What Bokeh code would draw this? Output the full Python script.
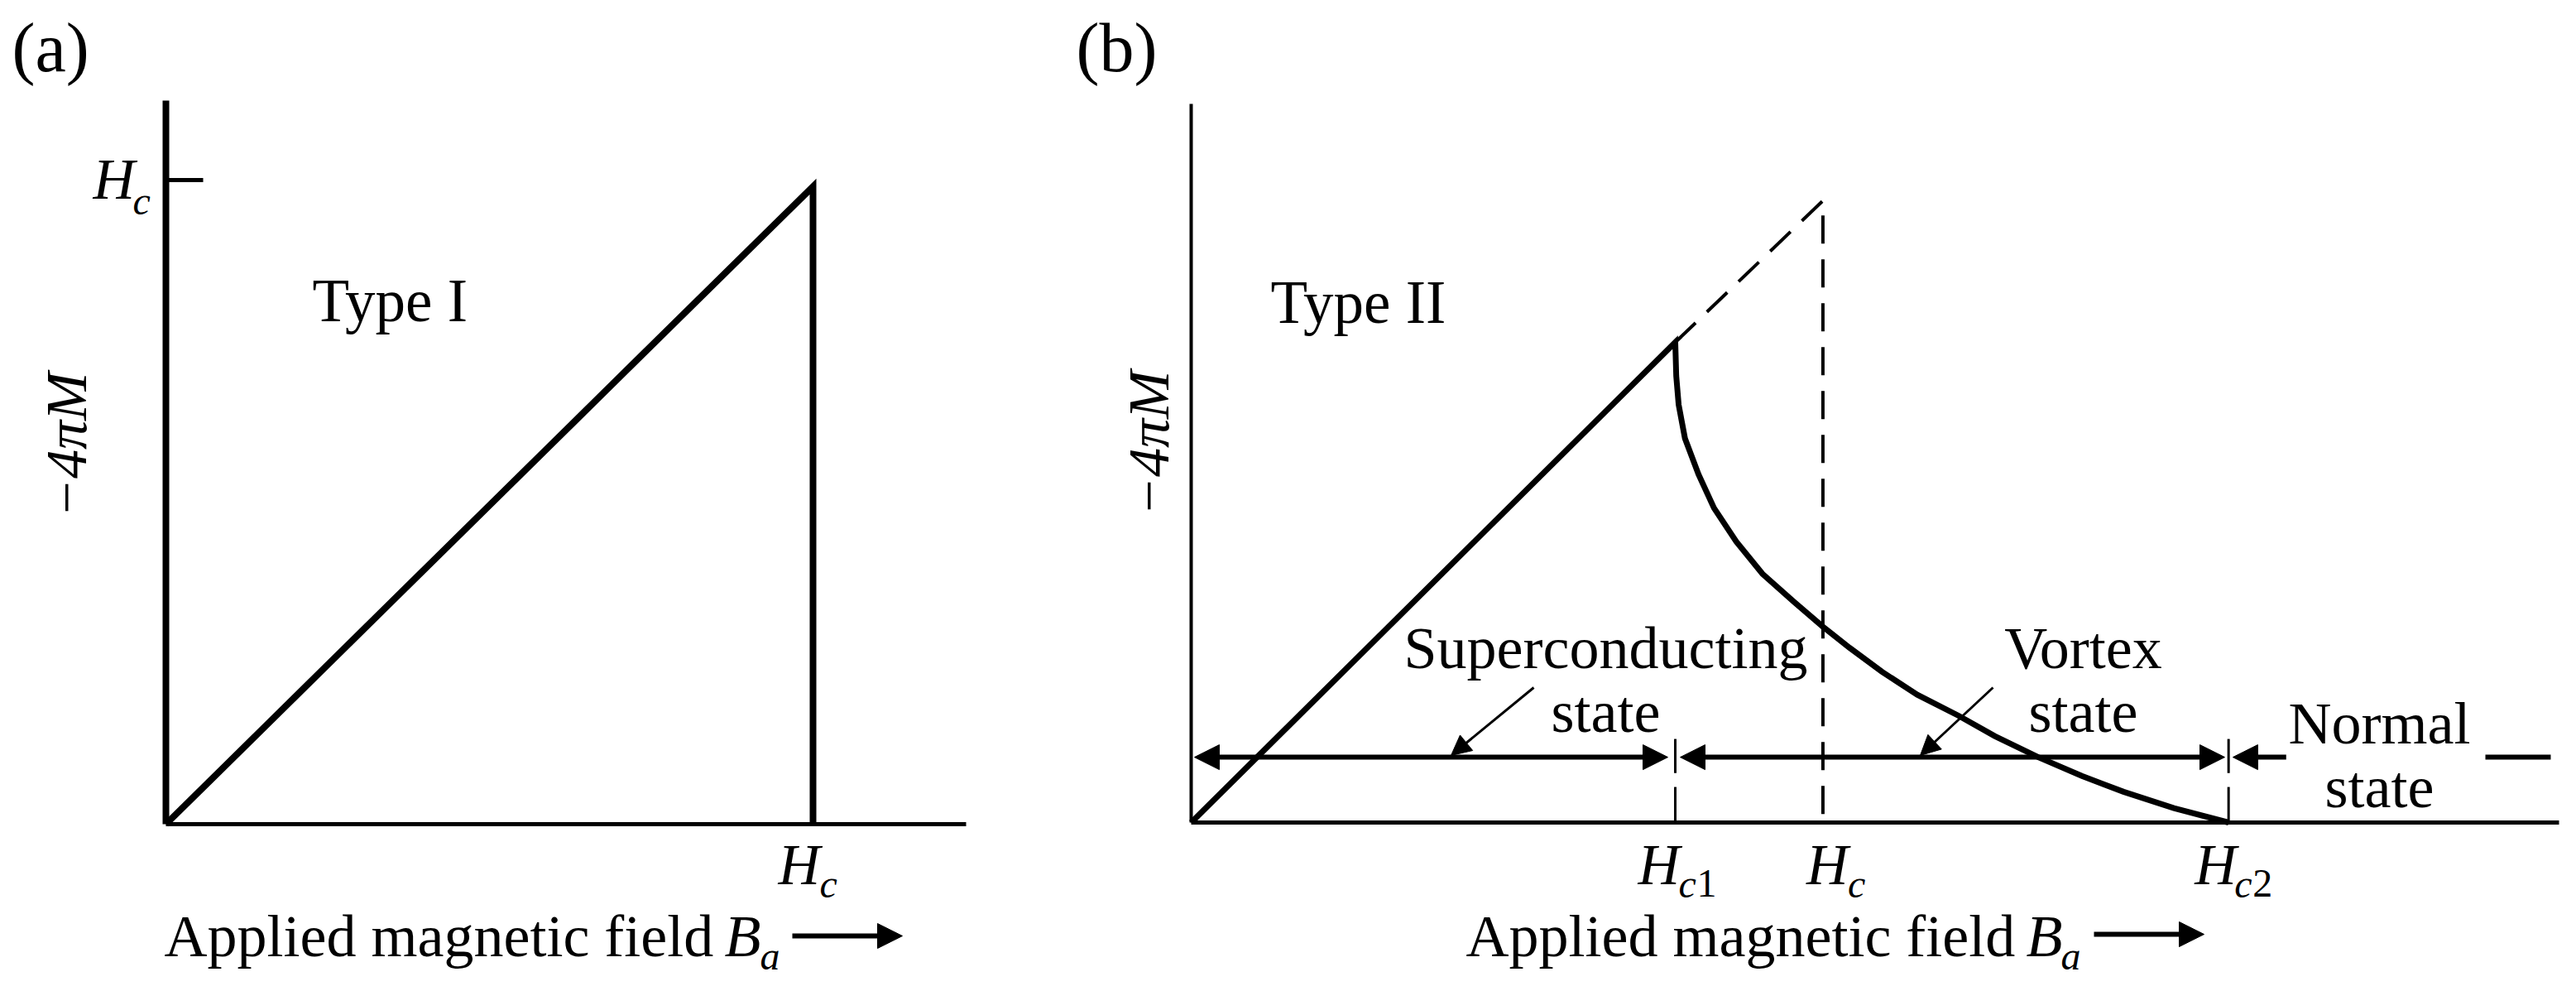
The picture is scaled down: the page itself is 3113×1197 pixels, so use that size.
import math
from bokeh.plotting import figure
from bokeh.models import Label, Arrow, NormalHead, FixedTicker, Range1d
from bokeh.layouts import row
from bokeh.embed import file_html
from bokeh.resources import INLINE

FONT = "Liberation Serif"

# ---------------- data (field in units of Hc / Hc1) ----------------
# (a) Type I superconductor
a_field = [0.0, 1.0, 1.0]
a_magnetization = [0.0, 0.99, 0.0]
a_hc = 1.0

# (b) Type II superconductor
b_meissner_field = [0.0, 1.0]
b_meissner_magnetization = [0.0, 1.0]
b_ideal_field = [1.0, 1.305, 1.305]
b_ideal_magnetization = [1.0, 1.295, 0.0]
b_vortex_field = [1.0, 1.002, 1.007, 1.02, 1.048, 1.08, 1.126, 1.18, 1.246, 1.306,
                  1.36, 1.427, 1.5, 1.586, 1.66, 1.75, 1.84, 1.926, 2.03, 2.143]
b_vortex_magnetization = [1.0, 0.93, 0.87, 0.80, 0.725, 0.655, 0.585, 0.518, 0.459, 0.407,
                          0.364, 0.314, 0.266, 0.222, 0.18, 0.136, 0.097, 0.064, 0.03, 0.0]
b_hc1, b_hc, b_hc2 = 1.0, 1.305, 2.143
b_tick_values = [b_hc1, b_hc, b_hc2]
b_tick_subs = [[("c", "italic"), ("1", "normal")], [("c", "italic")], [("c", "italic"), ("2", "normal")]]
b_state_names = [["Superconducting", "state"], ["Vortex", "state"], ["Normal", "state"]]

# ---------------- layout (pixels) ----------------
A_W, A_H = 1290, 1189
A_OX, A_OY = 200, 995          # origin of panel (a) in canvas px
A_SX, A_SY = 782.0, 778.0      # px per data unit
A_XEND, A_YEND = 967, 874      # axis lengths in px
B_W, B_H = 1815, 1189
B_OX, B_OY = 149, 993
B_SX, B_SY = 585.0, 580.0
B_XEND, B_YEND = 1653, 868
MID = 0.3375                   # middle of the font box above the baseline, in em


def make_fig(w, h, ox, oy, sx, sy, xend, yend, xw, yw):
    p = figure(width=w, height=h,
               x_range=Range1d(-ox / sx, (w - ox) / sx),
               y_range=Range1d(-(h - oy) / sy, oy / sy),
               output_backend="svg", toolbar_location=None, title=None,
               min_border=0, min_border_left=0, min_border_right=0,
               min_border_top=0, min_border_bottom=0)
    p.outline_line_color = None
    p.grid.visible = False
    p.background_fill_color = "white"
    p.border_fill_color = "white"
    for ax, end, lw in ((p.xaxis[0], xend / sx, xw), (p.yaxis[0], yend / sy, yw)):
        ax.ticker = FixedTicker(ticks=[])
        ax.fixed_location = 0
        ax.bounds = (0, end)
        ax.minor_tick_line_color = None
        ax.major_tick_line_color = None
        ax.major_tick_in = 0
        ax.major_tick_out = 0
        ax.major_label_standoff = 0
        ax.axis_line_color = "black"
        ax.axis_line_width = lw
    p._sy = sy
    return p


def put(p, x, y, text, size=72, style="normal", align="left", angle=0.0, center=False):
    """y is the text baseline (data units) unless center=True."""
    yc = y if center else y + MID * size / p._sy
    p.add_layout(Label(x=x, y=yc, text=text, text_font=FONT, text_font_size=f"{size}px",
                       text_font_style=style, text_align=align, text_baseline="middle",
                       angle=angle, text_color="black"))


def h_label(p, x, y, subs, sx, sy, dx_h, dy_h, dx_s, dy_s):
    put(p, x + dx_h / sx, y + dy_h / sy, "H", 70, "italic")
    off = dx_s
    for s, st in subs:
        put(p, x + off / sx, y + dy_s / sy, s, 48, st)
        off += 22 if st == "italic" else 24


def arrow(p, x0, y0, x1, y1, lw, size, both=False):
    head = lambda: NormalHead(size=size, fill_color="black", line_color="black", line_width=1)
    p.add_layout(Arrow(x_start=x0, y_start=y0, x_end=x1, y_end=y1,
                       start=head() if both else None, end=head(),
                       line_width=lw, line_color="black"))


# ---------------- panel (a) ----------------
pa = make_fig(A_W, A_H, A_OX, A_OY, A_SX, A_SY, A_XEND, A_YEND, 5, 8)
pa.line(a_field, a_magnetization, line_width=8, line_color="black", line_join="miter")
# Hc tick on the -4piM axis (pointing inward)
pa.segment(x0=[0], y0=[a_hc], x1=[45 / A_SX], y1=[a_hc], line_width=5, line_color="black")

h_label(pa, 0, a_hc, [("c", "italic")], A_SX, A_SY, -88, -23, -40, -41)   # y tick Hc
h_label(pa, a_hc, 0, [("c", "italic")], A_SX, A_SY, -42, -73, 8, -88)     # x tick Hc
put(pa, 177 / A_SX, 607 / A_SY, "Type I", 73)
put(pa, -120 / A_SX, 458 / A_SY, "\u22124\u03c0M", 70, "italic", "center",
    angle=math.pi / 2, center=True)
put(pa, -186 / A_SX, 910 / A_SY, "(a)", 84)
put(pa, -2 / A_SX, -160 / A_SY, "Applied magnetic field")
put(pa, 675 / A_SX, -160 / A_SY, "B", 72, "italic")
put(pa, 718 / A_SX, -175 / A_SY, "a", 48, "italic")
arrow(pa, 757 / A_SX, -135 / A_SY, 890 / A_SX, -135 / A_SY, 6, 30)

# ---------------- panel (b) ----------------
pb = make_fig(B_W, B_H, B_OX, B_OY, B_SX, B_SY, B_XEND, B_YEND, 5, 4)

pb.line(b_meissner_field + b_vortex_field[1:], b_meissner_magnetization + b_vortex_magnetization[1:],
        line_width=7, line_color="black", line_join="miter")
pb.line(b_ideal_field, b_ideal_magnetization, line_width=4, line_color="black", line_dash="34 19")

# short tick marks at Hc1 and Hc2 (broken around the state arrows)
tk = [b_hc1, b_hc1, b_hc2, b_hc2]
pb.segment(x0=tk, y0=[0, 0.103, 0, 0.103], x1=tk, y1=[0.074, 0.174, 0.074, 0.174],
           line_width=3, line_color="black")

# state arrows
sy_ = 0.136
arrow(pb, b_hc1 - 0.0154, sy_, 0.0068, sy_, 6, 30, both=True)
arrow(pb, b_hc1 + 0.0103, sy_, b_hc2 - 0.008, sy_, 6, 30, both=True)
arrow(pb, b_hc2 + 0.119, sy_, b_hc2 + 0.009, sy_, 6, 30)
pb.segment(x0=[2.6735], y0=[sy_], x1=[2.8085], y1=[sy_], line_width=6, line_color="black")

# pointer arrows
arrow(pb, 0.7077, 0.281, 0.5368, 0.1397, 3, 24)
arrow(pb, 1.6564, 0.281, 1.5060, 0.1397, 3, 24)

# state texts
state_x = [0.8564, 1.8427, 2.4547]
state_y = [(0.3207, 0.188), (0.3207, 0.188), (0.1638, 0.031)]
for (t1, t2), x, (y1, y2) in zip(b_state_names, state_x, state_y):
    put(pb, x, y1, t1, align="center")
    put(pb, x, y2, t2, align="center")

# tick labels
h_offsets = [(-45, 4), (-20, 30), (-41, 7)]
for v, subs, (dh, ds) in zip(b_tick_values, b_tick_subs, h_offsets):
    h_label(pb, v, 0, subs, B_SX, B_SY, dh, -75, ds, -90)

put(pb, 96 / B_SX, 603 / B_SY, "Type II", 73)
put(pb, -51 / B_SX, 458 / B_SY, "\u22124\u03c0M", 70, "italic", "center",
    angle=math.pi / 2, center=True)
put(pb, -139 / B_SX, 908 / B_SY, "(b)", 84)
put(pb, 332 / B_SX, -162 / B_SY, "Applied magnetic field")
put(pb, 1009 / B_SX, -162 / B_SY, "B", 72, "italic")
put(pb, 1051 / B_SX, -177 / B_SY, "a", 48, "italic")
arrow(pb, 1091 / B_SX, -135 / B_SY, 1224 / B_SX, -135 / B_SY, 6, 30)

layout = row(pa, pb)
open("out.html", "w").write(file_html(layout, INLINE))
